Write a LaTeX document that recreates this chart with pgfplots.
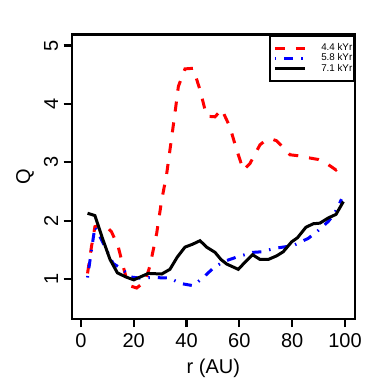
\documentclass[border=0pt]{standalone}
\usepackage{fontspec}
\setmainfont{Liberation Sans}
\usepackage{pgfplots}
\pgfplotsset{compat=1.18}

\begin{document}
\begin{tikzpicture}
\useasboundingbox (0,0) rectangle (390pt,389pt);
\begin{axis}[
  at={(71.7pt,70pt)}, anchor=south west,
  scale only axis,
  width=283.3pt, height=284.3pt,
  xmin=-3.5, xmax=103.8,
  ymin=0.32, ymax=5.185,
  xtick={0,20,40,60,80,100},
  ytick={1,2,3,4,5},
  tick align=outside,
  major tick length=8pt,
  xtick pos=bottom, ytick pos=left,
  axis line style={line width=2.4pt},
  every tick/.style={black, line width=2.2pt},
  /pgf/number format/assume math mode=true,
  ticklabel style={font=\fontsize{20}{24}\selectfont},
  xticklabel style={yshift=-3pt},
  yticklabel style={rotate=90, anchor=south, yshift=2pt},
  xlabel={r (AU)}, ylabel={Q},
  every axis x label/.style={at={(axis description cs:0.5,0)}, anchor=center,
    yshift=-49pt, font=\fontsize{20}{24}\selectfont},
  every axis y label/.style={at={(axis description cs:0,0.5)}, anchor=center,
    rotate=90, yshift=46.7pt, font=\fontsize{20}{24}\selectfont},
  legend image code/.code={\path (-3pt,0pt); \draw[#1] (0pt,0pt) -- (30pt,0pt);},
  legend cell align=right,
  legend style={at={(1,1)}, anchor=north east, draw=black, line width=2.4pt,
    font=\fontsize{9.8}{10}\selectfont, inner xsep=0.5pt, inner ysep=7pt,
    row sep=0pt, nodes={inner sep=1pt, text height=6.5pt, text depth=1.9pt}},
]
% 4.4 kYr
\addplot[red, line width=3pt, dash pattern=on 10pt off 11pt] coordinates {
(2.5,1.10)(4,1.56)(5.3,1.90)(7.5,1.93)(9.7,1.90)(11.6,1.81)(14.1,1.56)(16,1.22)
(17.9,0.90)(21.1,0.85)(24.2,0.96)(26.1,1.22)(28.7,1.79)(30.6,2.36)(32.4,2.78)
(34.4,3.44)(35.6,3.84)(36.9,4.30)(39.4,4.60)(42.5,4.61)(45.1,4.24)(47.6,3.79)
(50.8,3.78)(53.3,3.91)(56.4,3.61)(59,3.21)(61.5,2.87)(64,2.98)(67.8,3.30)
(70,3.38)(72.2,3.40)(74.1,3.37)(79.2,3.13)(83,3.11)(86,3.08)(89.9,3.05)
(93.1,2.98)(96.6,2.87)(98.8,2.94)
};
\addlegendentry{\hspace*{14pt}4.4 kYr}
% 5.8 kYr
\addplot[blue, line width=3pt, dash pattern=on 1.5pt off 8pt on 9pt off 8pt] coordinates {
(2.5,1.03)(3.8,1.44)(5.3,1.90)(7.2,1.73)(9.7,1.50)(12.2,1.27)(16,1.16)(18.6,1.04)
(22.3,1.02)(27.4,1.03)(33.7,1.02)(37.5,0.93)(42.5,0.89)(46.3,1.03)(50.1,1.19)
(53.9,1.30)(59,1.38)(65,1.46)(68.4,1.47)(73.5,1.53)(78,1.56)(81,1.59)(86.1,1.70)
(90,1.84)(93.7,1.99)(96,2.12)(98.7,2.37)
};
\addlegendentry{\hspace*{14pt}5.8 kYr}
% 7.1 kYr
\addplot[black, line width=3pt] coordinates {
(2.5,2.13)(5.3,2.09)(8,1.72)(11,1.34)(13.8,1.11)(17,1.04)(20,0.99)(22.5,1.04)
(25.5,1.10)(30.6,1.09)(33.7,1.17)(36.5,1.38)(39.4,1.55)(42.3,1.60)(45.1,1.66)
(47.6,1.55)(50.8,1.46)(53,1.34)(55.2,1.26)(59.6,1.17)(62.3,1.30)(65,1.42)
(67.8,1.34)(71,1.34)(74.1,1.40)(76.6,1.47)(79.8,1.64)(82,1.71)(85.2,1.89)
(88,1.95)(90.5,1.96)(93.7,2.05)(96.6,2.11)(99.4,2.33)
};
\addlegendentry{\hspace*{14pt}7.1 kYr}
\end{axis}
\end{tikzpicture}
\end{document}
